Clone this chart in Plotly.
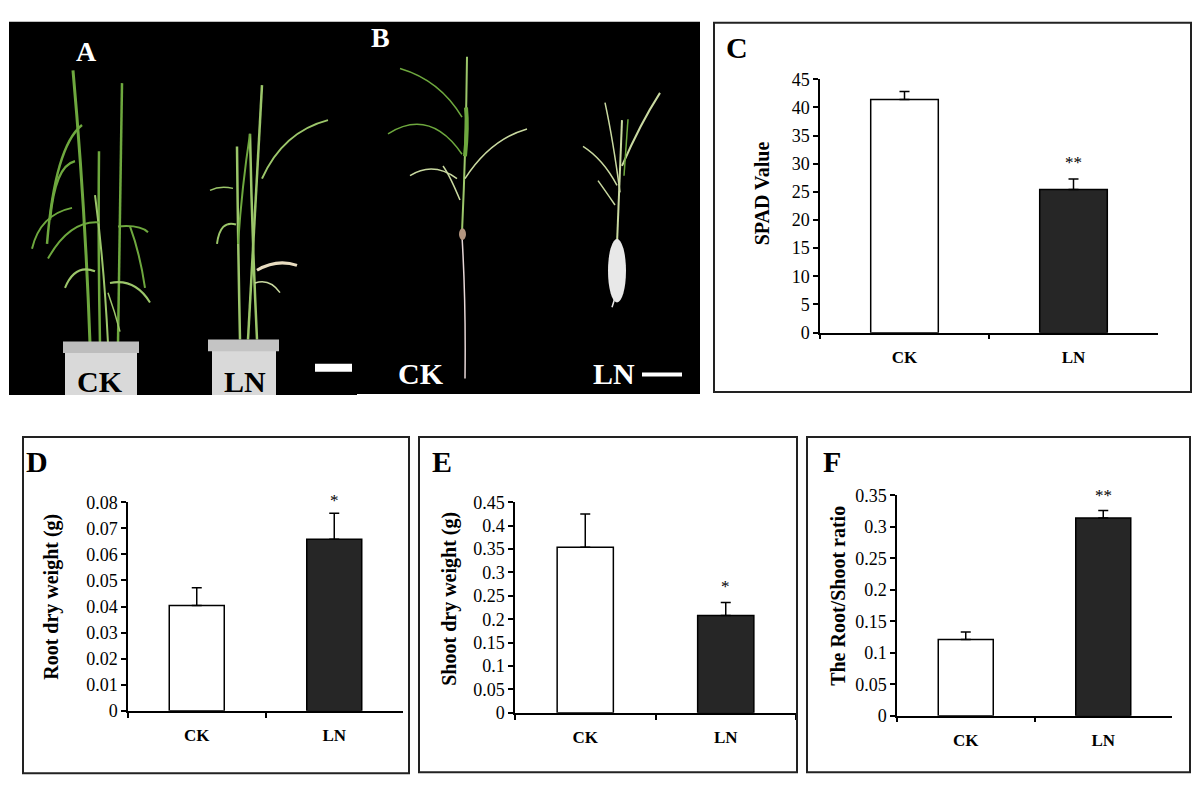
import plotly.graph_objects as go

W, H = 1200, 793

# ---------------- data ----------------
categories = ["CK", "LN"]

spad_values = [41.4, 25.4]
spad_err = [1.4, 1.9]
spad_sig = ["", "**"]

root_values = [0.0404, 0.0658]
root_err = [0.0068, 0.0100]
root_sig = ["", "*"]

shoot_values = [0.354, 0.208]
shoot_err = [0.071, 0.028]
shoot_sig = ["", "*"]

ratio_values = [0.121, 0.314]
ratio_err = [0.012, 0.012]
ratio_sig = ["", "**"]

spad_ticks = [0, 5, 10, 15, 20, 25, 30, 35, 40, 45]
root_ticks = [0, 0.01, 0.02, 0.03, 0.04, 0.05, 0.06, 0.07, 0.08]
root_ticklabels = ["0", "0.01", "0.02", "0.03", "0.04", "0.05", "0.06", "0.07", "0.08"]
shoot_ticks = [0, 0.05, 0.1, 0.15, 0.2, 0.25, 0.3, 0.35, 0.4, 0.45]
shoot_ticklabels = ["0", "0.05", "0.1", "0.15", "0.2", "0.25", "0.3", "0.35", "0.4", "0.45"]
ratio_ticks = [0, 0.05, 0.1, 0.15, 0.2, 0.25, 0.3, 0.35]
ratio_ticklabels = ["0", "0.05", "0.1", "0.15", "0.2", "0.25", "0.3", "0.35"]

bar_colors = ["#ffffff", "#262626"]

SERIF = "Liberation Serif"


def px(x):
    return x / W


def py(y):
    return 1 - y / H


def pt(x, y):
    return f"{px(x):.5f},{py(y):.5f}"


fig = go.Figure()
shapes = []
annotations = []

# ---------------- photo panels (schematic) ----------------
shapes.append(dict(type="rect", xref="paper", yref="paper", x0=px(9), x1=px(357), y0=py(395), y1=py(12),
                   fillcolor="#000000", line=dict(width=0), layer="below"))
shapes.append(dict(type="rect", xref="paper", yref="paper", x0=px(357), x1=px(700), y0=py(394), y1=py(12),
                   fillcolor="#000000", line=dict(width=0), layer="below"))


def curve(p0, c, p1, color, width):
    shapes.append(dict(type="path", xref="paper", yref="paper",
                       path=f"M {pt(*p0)} Q {pt(*c)} {pt(*p1)}",
                       line=dict(color=color, width=width)))


green = "#6ea83e"
lgreen = "#9cc66a"
pale = "#c9d9a0"
beige = "#e8dcc0"

# Panel A - CK plant
curve((90, 342), (85, 200), (73, 62), green, 3)
curve((118, 342), (120, 200), (122, 75), green, 2.5)
curve((100, 342), (98, 240), (99, 145), green, 2.5)
curve((108, 342), (104, 260), (95, 190), lgreen, 2)
curve((82, 118), (55, 140), (47, 240), green, 2.5)
curve((75, 155), (55, 160), (50, 215), green, 2.5)
curve((72, 203), (40, 210), (32, 245), green, 2)
curve((100, 218), (70, 215), (48, 255), green, 2)
curve((118, 222), (140, 220), (148, 228), green, 2)
curve((130, 222), (140, 250), (145, 285), green, 2)
curve((95, 268), (75, 260), (65, 285), lgreen, 2)
curve((110, 280), (135, 275), (150, 300), lgreen, 2)
curve((108, 290), (115, 310), (120, 330), lgreen, 1.5)
# Panel A - LN plant
curve((240, 338), (238, 240), (237, 140), lgreen, 2.5)
curve((248, 338), (255, 200), (262, 77), lgreen, 2.5)
curve((257, 338), (252, 230), (250, 127), lgreen, 2.5)
curve((262, 173), (283, 125), (328, 113), lgreen, 2)
curve((250, 127), (242, 180), (238, 240), green, 2)
curve((233, 183), (220, 180), (210, 185), lgreen, 1.5)
curve((236, 220), (220, 215), (217, 240), lgreen, 2)
curve((257, 267), (277, 255), (297, 262), beige, 3)
curve((255, 280), (270, 275), (280, 290), pale, 1.5)
# pots
shapes.append(dict(type="rect", xref="paper", yref="paper", x0=px(65), x1=px(137), y0=py(395), y1=py(344),
                   fillcolor="#d9d9d9", line=dict(width=0)))
shapes.append(dict(type="rect", xref="paper", yref="paper", x0=px(63), x1=px(139), y0=py(352), y1=py(340),
                   fillcolor="#bdbdbd", line=dict(width=0)))
shapes.append(dict(type="rect", xref="paper", yref="paper", x0=px(212), x1=px(276), y0=py(395), y1=py(342),
                   fillcolor="#d9d9d9", line=dict(width=0)))
shapes.append(dict(type="rect", xref="paper", yref="paper", x0=px(208), x1=px(279), y0=py(350), y1=py(338),
                   fillcolor="#c4c4c4", line=dict(width=0)))
# scale bar A
shapes.append(dict(type="rect", xref="paper", yref="paper", x0=px(315), x1=px(352), y0=py(371), y1=py(363),
                   fillcolor="#ffffff", line=dict(width=0)))

# Panel B - CK plant
curve((462, 228), (466, 140), (467, 48), lgreen, 2)
curve((462, 232), (466, 300), (465, 378), "#e6d6d6", 1.5)
curve((462, 110), (440, 72), (400, 60), green, 1.5)
curve((462, 148), (430, 100), (388, 127), green, 1.5)
curve((465, 173), (490, 133), (527, 122), pale, 1.5)
curve((457, 173), (433, 155), (410, 170), pale, 1.5)
curve((460, 195), (450, 170), (443, 160), pale, 1.5)
curve((465, 150), (468, 120), (466, 100), green, 4)
shapes.append(dict(type="circle", xref="paper", yref="paper", x0=px(459), x1=px(466), y0=py(236), y1=py(224),
                   fillcolor="#b49680", line=dict(width=0)))
# Panel B - LN plant
curve((617, 240), (620, 170), (622, 113), pale, 2)
curve((620, 187), (613, 133), (605, 95), pale, 1.5)
curve((622, 160), (640, 117), (660, 85), pale, 2)
curve((617, 180), (603, 153), (583, 140), pale, 1.5)
curve((615, 200), (605, 185), (598, 175), pale, 1.5)
curve((624, 170), (626, 140), (628, 112), green, 1.5)
shapes.append(dict(type="circle", xref="paper", yref="paper", x0=px(608), x1=px(626), y0=py(300), y1=py(235),
                   fillcolor="#e8e8e8", line=dict(width=0)))
curve((615, 295), (613, 302), (612, 305), "#e8e8e8", 1.5)
# scale bar B
shapes.append(dict(type="rect", xref="paper", yref="paper", x0=px(642), x1=px(682), y0=py(376), y1=py(372),
                   fillcolor="#ffffff", line=dict(width=0)))


def label(x, y, text, size, color="#000000", bold=True):
    annotations.append(dict(xref="paper", yref="paper", x=px(x), y=py(y), text=f"<b>{text}</b>" if bold else text,
                            showarrow=False, xanchor="center", yanchor="middle",
                            font=dict(family=SERIF, size=size, color=color)))


label(86, 43, "A", 28, "#ffffff")
label(100, 381, "CK", 30)
label(245, 381, "LN", 30)
label(380, 28, "B", 28, "#ffffff")
label(421, 373, "CK", 30, "#ffffff")
label(614, 373, "LN", 30, "#ffffff")

# ---------------- chart panels ----------------
panels = [
    ("C", spad_values, spad_err, spad_sig, spad_ticks, [str(t) for t in spad_ticks], [0, 45],
     (820, 1158, 71, 331), (714, 13, 1191, 392), (737, 38), "SPAD Value", (762, 188), 5),
    ("D", root_values, root_err, root_sig, root_ticks, root_ticklabels, [0, 0.08],
     (128, 403, 505, 719), (23, 438, 409, 783), (37, 463), "Root dry weight (g)", (52, 602), 1),
    ("E", shoot_values, shoot_err, shoot_sig, shoot_ticks, shoot_ticklabels, [0, 0.45],
     (515, 796, 505, 721), (419, 438, 797, 782), (442, 463), "Shoot dry weight (g)", (450, 604), 4),
    ("F", ratio_values, ratio_err, ratio_sig, ratio_ticks, ratio_ticklabels, [0, 0.35],
     (897, 1172, 498, 724), (807, 438, 1190, 782), (832, 463), "The Root/Shoot ratio", (838, 601), 4),
]

layout_axes = {}
for i, (name, vals, errs, sigs, ticks, tlabels, yr, box, frame, lpos, title, tpos, sshift) in enumerate(panels):
    n = i + 1
    xa = "x" if n == 1 else f"x{n}"
    ya = "y" if n == 1 else f"y{n}"
    fig.add_trace(go.Bar(
        x=categories, y=vals, xaxis=xa, yaxis=ya, width=0.4,
        marker=dict(color=bar_colors, line=dict(color="#000000", width=1.5)),
        error_y=dict(type="data", symmetric=False, array=errs, arrayminus=[0] * len(errs),
                     color="#000000", thickness=1.5, width=5),
        showlegend=False, hoverinfo="skip",
    ))
    x0, x1, yt, yb = box
    xkey = "xaxis" if n == 1 else f"xaxis{n}"
    ykey = "yaxis" if n == 1 else f"yaxis{n}"
    layout_axes[xkey] = dict(
        domain=[px(x0), px(x1)], anchor=ya, type="category", range=[-0.5, 1.5],
        showline=True, linecolor="#000000", linewidth=1.5, ticks="outside", tickson="boundaries",
        ticklen=5, tickwidth=1.5, tickcolor="#000000", showgrid=False, zeroline=False,
        tickfont=dict(family=SERIF, size=17, color="#000000"), ticklabelstandoff=8,
        tickvals=categories, ticktext=[f"<b>{c}</b>" for c in categories], fixedrange=True,
    )
    layout_axes[ykey] = dict(
        domain=[py(yb), py(yt)], anchor=xa, range=yr, tickvals=ticks, ticktext=tlabels,
        showline=True, linecolor="#000000", linewidth=1.5, ticks="outside", ticklen=5, tickwidth=1.5,
        tickcolor="#000000", showgrid=False, zeroline=False,
        tickfont=dict(family=SERIF, size=18, color="#000000"), fixedrange=True,
    )
    for c, v, e, s in zip(categories, vals, errs, sigs):
        if s:
            annotations.append(dict(xref=xa, yref=ya, x=c, y=v + e, text=s, showarrow=False,
                                    yanchor="bottom", yshift=sshift,
                                    font=dict(family=SERIF, size=17, color="#000000")))
    fx0, fy0, fx1, fy1 = frame
    shapes.append(dict(type="rect", xref="paper", yref="paper", x0=px(fx0), x1=px(fx1), y0=py(fy1), y1=py(fy0),
                       line=dict(color="#222222", width=2), fillcolor="rgba(0,0,0,0)"))
    label(lpos[0], lpos[1], name, 30)
    annotations.append(dict(xref="paper", yref="paper", x=px(tpos[0]), y=py(tpos[1]), text=f"<b>{title}</b>",
                            textangle=-90, showarrow=False, xanchor="center", yanchor="middle",
                            font=dict(family=SERIF, size=20, color="#000000")))

fig.update_layout(
    width=W, height=H, margin=dict(l=0, r=0, t=0, b=0),
    paper_bgcolor="#ffffff", plot_bgcolor="rgba(0,0,0,0)",
    shapes=shapes, annotations=annotations, bargap=0.6,
    **layout_axes,
)

fig.write_html("out.html", config={"displayModeBar": False},
               post_script="document.body.style.margin='0';document.body.style.overflow='hidden';")
